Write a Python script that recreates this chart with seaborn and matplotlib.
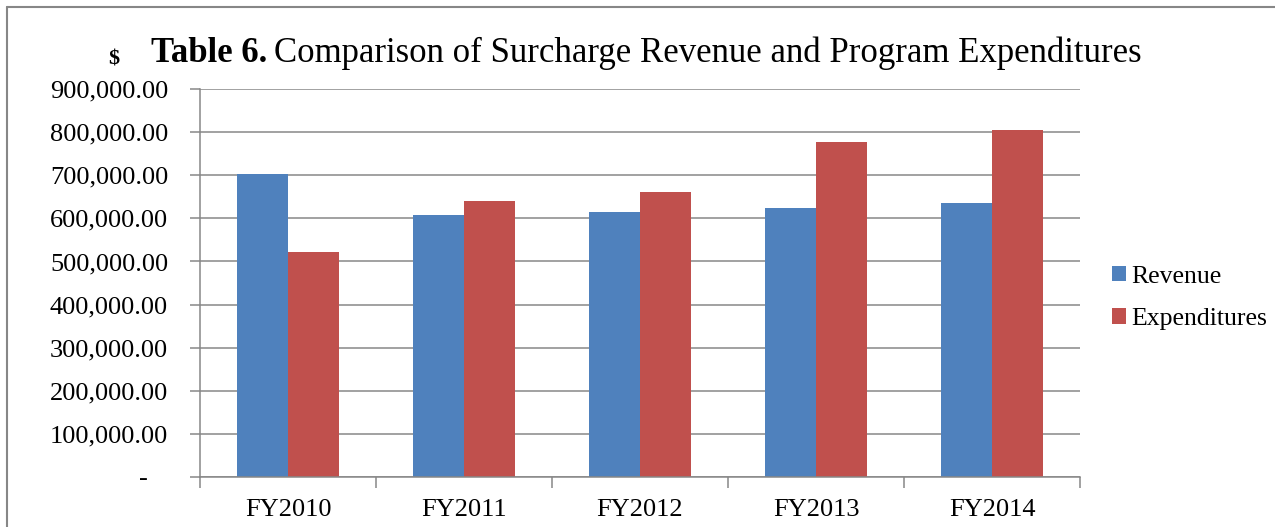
import pandas as pd
import matplotlib.pyplot as plt
import seaborn as sns
from matplotlib.ticker import FuncFormatter, FixedLocator
from matplotlib.lines import Line2D

years = ["FY2010", "FY2011", "FY2012", "FY2013", "FY2014"]
revenue = [703000, 607000, 615000, 625000, 637000]
expenditures = [523000, 641000, 662000, 777000, 805000]
series_names = ["Revenue", "Expenditures"]
colors = ["#4F81BD", "#C0504D"]

GRID = "#878787"
SERIF = ["Liberation Serif", "DejaVu Serif"]


def money(v, pos):
    if v == 0:
        return "-   "
    return f"{v:,.2f}"


def draw_chart():
    sns.set_theme(style="white")
    plt.rcParams["font.family"] = SERIF
    plt.rcParams["text.color"] = "black"

    df = pd.DataFrame({
        "year": years * 2,
        "value": revenue + expenditures,
        "series": [series_names[0]] * len(years) + [series_names[1]] * len(years),
    })

    fig = plt.figure(figsize=(12.75, 5.27), dpi=100)
    W, H = 1275, 527
    ax = fig.add_axes([200 / W, 1 - 476.7 / H, 880 / W, (476.7 - 89.3) / H])

    sns.barplot(
        data=df, x="year", y="value", hue="series",
        palette=colors, width=0.575, gap=0, saturation=1,
        edgecolor="none", ax=ax, legend=True,
    )

    ax.set_ylim(0, 900000)
    ax.set_xlim(-0.5, len(years) - 0.5)
    ax.yaxis.set_major_locator(FixedLocator(range(0, 900001, 100000)))
    ax.yaxis.set_major_formatter(FuncFormatter(money))
    ax.yaxis.grid(True, color=GRID, linewidth=1.1)
    ax.set_axisbelow(True)
    ax.set_xlabel("")
    ax.set_ylabel("")

    for side in ["top", "right"]:
        ax.spines[side].set_visible(False)
    for side in ["left", "bottom"]:
        ax.spines[side].set_color(GRID)
        ax.spines[side].set_linewidth(1.1)

    ax.tick_params(axis="y", left=True, length=7, width=1.1, color=GRID,
                   labelsize=19, pad=16, labelcolor="black")
    ax.tick_params(axis="x", bottom=False, labelsize=19, pad=10,
                   labelcolor="black")
    # category boundary ticks on x axis
    ax.set_xticks([i - 0.5 for i in range(len(years) + 1)], minor=True)
    ax.tick_params(axis="x", which="minor", bottom=True, length=8,
                   width=1.1, color=GRID)

    handles, labels = ax.get_legend_handles_labels()
    ax.legend(handles, labels, loc="center left",
              bbox_to_anchor=(1112 / W, 1 - 298 / H),
              bbox_transform=fig.transFigure, frameon=False,
              fontsize=18.5, handlelength=0.55, handleheight=0.55,
              handletextpad=0.2, labelspacing=0.8, borderpad=0,
              borderaxespad=0, labelcolor="black")

    # title pieces
    fig.text(108 / W, 1 - 65 / H, "$", fontsize=16, fontweight="bold",
             ha="left", va="baseline", family=SERIF)
    t1 = fig.text(151 / W, 1 - 62 / H, "Table 6.", fontsize=25,
                  fontweight="bold", ha="left", va="baseline", family=SERIF)
    renderer = fig.canvas.get_renderer()
    bb = t1.get_window_extent(renderer)
    fig.text(bb.x1 / W + 7 / W, 1 - 62 / H,
             "Comparison of Surcharge Revenue and Program Expenditures",
             fontsize=25, ha="left", va="baseline", family=SERIF)

    # outer chart frame (left and top edges visible)
    fig.add_artist(Line2D([7 / W, 7 / W], [0, 1 - 7 / H], color=GRID,
                          linewidth=1.5, transform=fig.transFigure))
    fig.add_artist(Line2D([7 / W, 1], [1 - 7 / H, 1 - 7 / H], color=GRID,
                          linewidth=1.5, transform=fig.transFigure))

    fig.savefig("out.png", dpi=100, facecolor="white")
    plt.close(fig)


if __name__ == "__main__":
    draw_chart()
